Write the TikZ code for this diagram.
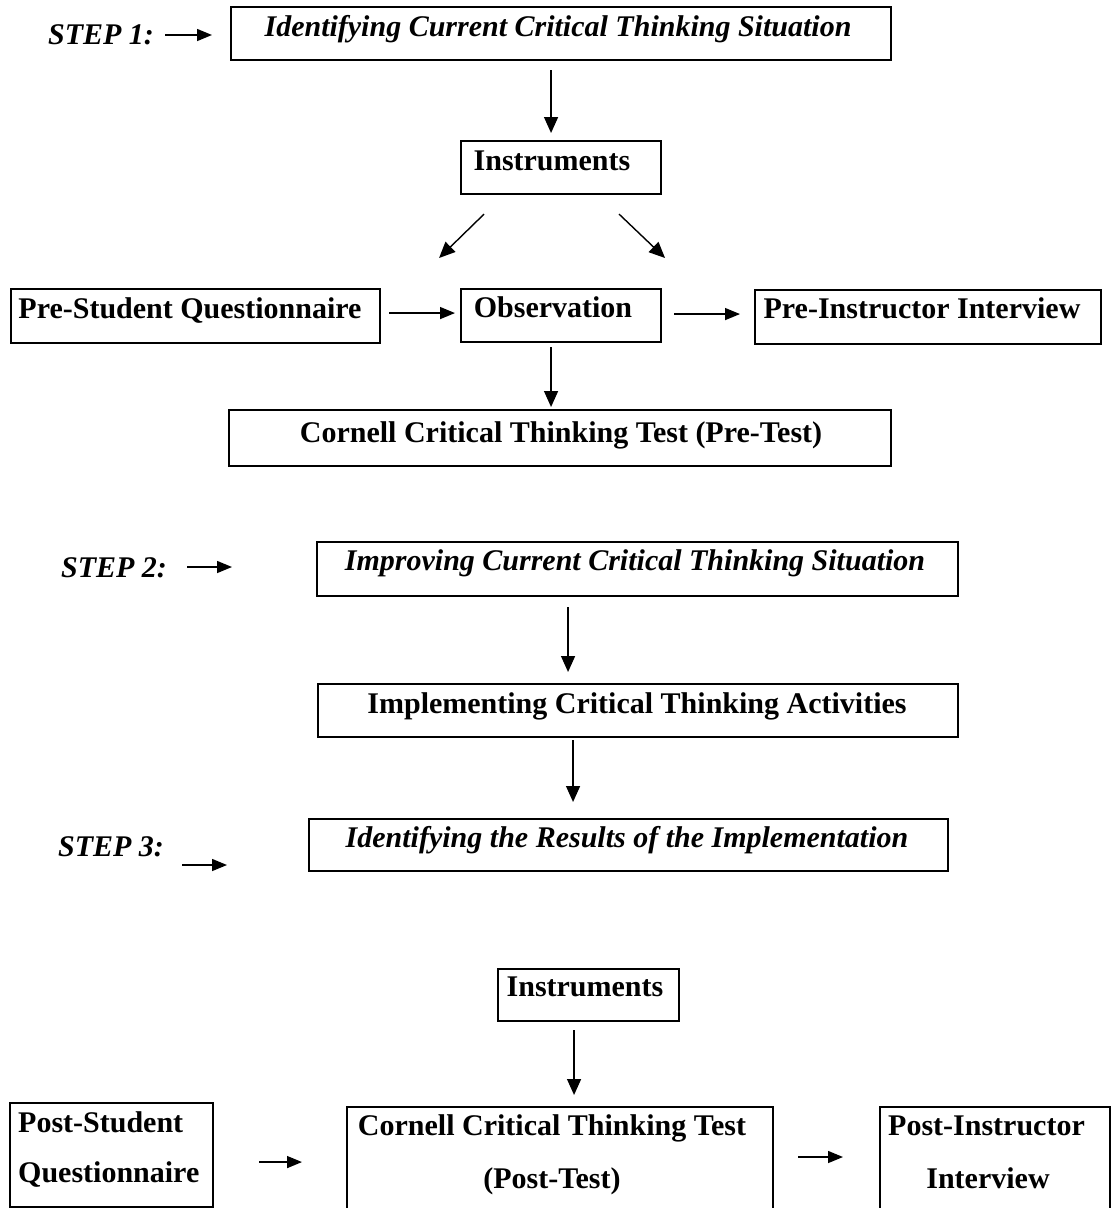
\documentclass[tikz,border=0pt]{standalone}
\usepackage{fontspec}
\setmainfont{Liberation Serif}
\usetikzlibrary{arrows.meta}
\begin{document}
\begin{tikzpicture}[x=1pt,y=-1pt,
 box/.style={draw, line width=2.1pt, inner sep=0pt, rectangle, anchor=north west},
 obox/.style={inner sep=0pt, outer sep=0pt, rectangle, anchor=north west},
 bline/.style={line width=2.1pt},
 lbl/.style={anchor=base, inner sep=0pt, font=\bfseries\fontsize{30}{36}\selectfont},
 ilbl/.style={anchor=base, inner sep=0pt, font=\bfseries\itshape\fontsize{30}{36}\selectfont},
 arr/.style={line width=1.4pt, -{Triangle[length=16pt,width=14pt]}},
 harr/.style={line width=1.5pt, -{Triangle[length=15pt,width=12pt]}}]
\useasboundingbox (0,0) rectangle (1111,1208);
\begin{scope}
\clip (0,0) rectangle (1111,1208);
% boxes
\node[box, minimum width=660pt, minimum height=53pt] (b1) at (230,6) {};
\node[box, minimum width=200pt, minimum height=53pt] (ins1) at (460,140) {};
\node[box, minimum width=369pt, minimum height=54pt] (psq) at (10,288) {};
\node[box, minimum width=200pt, minimum height=53pt] (obs) at (460,288) {};
\node[box, minimum width=346pt, minimum height=54pt] (pii) at (754,289) {};
\node[box, minimum width=662pt, minimum height=56pt] (cct1) at (228,409) {};
\node[box, minimum width=641pt, minimum height=54pt] (imp) at (316,541) {};
\node[box, minimum width=640pt, minimum height=53pt] (impl) at (317,683) {};
\node[box, minimum width=639pt, minimum height=52pt] (res) at (308,818) {};
\node[box, minimum width=181pt, minimum height=52pt] (ins2) at (497,968) {};
\node[box, minimum width=203pt, minimum height=104pt] (psq2) at (9,1102) {};
\node[obox, minimum width=426pt, minimum height=110pt] (cct2) at (347,1107) {};
\node[obox, minimum width=230pt, minimum height=110pt] (pii2) at (880,1107) {};
\draw[bline] (cct2.south west) |- (cct2.north east) -- (cct2.south east);
\draw[bline] (pii2.south west) |- (pii2.north east) -- (pii2.south east);
\end{scope}
% texts
\node[ilbl] (s1) at (101,44) {STEP 1:};
\node[ilbl] (t1) at (558,36) {Identifying Current Critical Thinking Situation};
\node[lbl] (t2) at (552,170) {Instruments};
\node[lbl] (t3) at (190,318) {Pre-Student Questionnaire};
\node[lbl] (t4) at (553,317) {Observation};
\node[lbl] (t5) at (922,318) {Pre-Instructor Interview};
\node[lbl] (t6) at (561,442) {Cornell Critical Thinking Test (Pre-Test)};
\node[ilbl] (s2) at (114,577) {STEP 2:};
\node[ilbl] (t7) at (635,570) {Improving Current Critical Thinking Situation};
\node[lbl] (t8) at (637,713) {Implementing Critical Thinking Activities};
\node[ilbl] (s3) at (111,856) {STEP 3:};
\node[ilbl] (t9) at (627,847) {Identifying the Results of the Implementation};
\node[lbl] (t10) at (585,996) {Instruments};
\node[lbl, anchor=base west] (t11) at (18,1132) {Post-Student};
\node[lbl, anchor=base west] (t12) at (18,1182) {Questionnaire};
\node[lbl] (t13) at (552,1135) {Cornell Critical Thinking Test};
\node[lbl] (t14) at (552,1188) {(Post-Test)};
\node[lbl, anchor=base west] (t15) at (888,1135) {Post-Instructor};
\node[lbl] (t16) at (988,1188) {Interview};
% step arrows
\coordinate (s1a) at (165,35); \coordinate (s1b) at (212,35);
\coordinate (s2a) at (187,567); \coordinate (s2b) at (232,567);
\coordinate (s3a) at (182,865); \coordinate (s3b) at (227,865);
\draw[harr] (s1a) -- (s1b);
\draw[harr] (s2a) -- (s2b);
\draw[harr] (s3a) -- (s3b);
% connector end points
\coordinate (v1s) at ([xshift=-10pt,yshift=-9pt]b1.south);
\coordinate (v1e) at ([yshift=7pt]ins1.north);
\coordinate (h1s) at ([xshift=8pt,yshift=3pt]psq.east);
\coordinate (h1e) at ([xshift=-5pt]obs.west);
\coordinate (h2s) at ([xshift=12pt,yshift=1.5pt]obs.east);
\coordinate (h2e) at ([xshift=-14pt]pii.west);
\coordinate (v2s) at ([xshift=-10pt,yshift=-4pt]obs.south);
\coordinate (v2e) at ([yshift=2pt]cct1.north);
\coordinate (v3s) at ([xshift=-69.5pt,yshift=-10pt]imp.south);
\coordinate (v3e) at ([yshift=11pt]impl.north);
\coordinate (v4s) at ([xshift=-65pt,yshift=-2pt]impl.south);
\coordinate (v4e) at ([yshift=16pt]res.north);
\coordinate (v5s) at ([xshift=-14.5pt,yshift=-8pt]ins2.south);
\coordinate (v5e) at ([yshift=12pt]cct2.north);
\coordinate (h3s) at ([xshift=45pt,yshift=-7pt]psq2.east);
\coordinate (h3e) at ([xshift=-45pt]cct2.west);
\coordinate (h4s) at ([xshift=25pt,yshift=5pt]cct2.east);
\coordinate (h4e) at ([xshift=-37pt]pii2.west);
% connectors
\draw[arr] (v1s) -- (v1s |- v1e);
\draw[arr] ([xshift=-77pt,yshift=-19pt]ins1.south) -- ([xshift=-122pt,yshift=30pt]obs.north);
\draw[arr] ([xshift=58pt,yshift=-19pt]ins1.south) -- ([xshift=104pt,yshift=30pt]obs.north);
\draw[harr] (h1s) -- (h1s -| h1e);
\draw[harr] (h2s) -- (h2s -| h2e);
\draw[arr] (v2s) -- (v2s |- v2e);
\draw[arr] (v3s) -- (v3s |- v3e);
\draw[arr] (v4s) -- (v4s |- v4e);
\draw[arr] (v5s) -- (v5s |- v5e);
\draw[harr] (h3s) -- (h3s -| h3e);
\draw[harr] (h4s) -- (h4s -| h4e);
\end{tikzpicture}
\end{document}
